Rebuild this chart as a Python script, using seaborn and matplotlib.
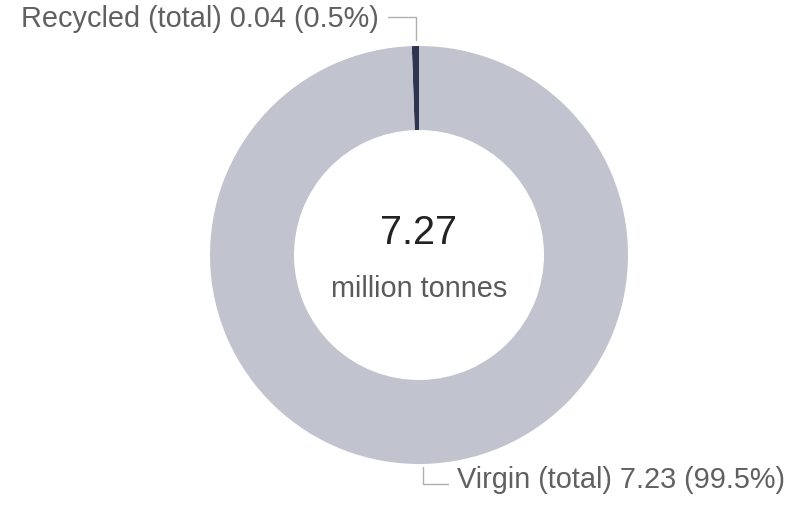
import matplotlib
matplotlib.use("Agg")
import matplotlib.pyplot as plt
import seaborn as sns

# Material sources, million tonnes
categories = ["Recycled (total)", "Virgin (total)"]
values = [0.04, 7.23]
shares = [0.5, 99.5]
total = 7.27
unit_label = "million tonnes"

sns.set_theme(style="white")
plt.rcParams["font.family"] = ["Liberation Sans", "DejaVu Sans"]

colors = ["#2e3550", "#c1c4ce"]

W, H = 792, 505
fig = plt.figure(figsize=(W / 100, H / 100), dpi=100)
ax = fig.add_axes([0, 0, 1, 1])

cx, cy = 419, H - 255
R, r = 209, 125

ax.pie(values, colors=colors, startangle=90, counterclock=True,
       radius=R, center=(cx, cy), frame=True,
       wedgeprops=dict(width=R - r, linewidth=0))
ax.set_xlim(0, W)
ax.set_ylim(0, H)
ax.set_aspect("equal")
ax.axis("off")

# centre figures
ax.text(cx, H - 233, f"{total:.2f}", ha="center", va="center",
        fontsize=28.5, color="#222222")
ax.text(cx, H - 289, unit_label, ha="center", va="center",
        fontsize=20.8, color="#5a5a5a")

line_col = "#b0b0b0"
txt_col = "#606060"

# recycled callout
ax.plot([388, 416, 416], [H - 17, H - 17, H - 40], color=line_col, lw=1.0)
ax.text(379, H - 19, f"{categories[0]} {values[0]:.2f} ({shares[0]}%)",
        ha="right", va="center", fontsize=20.8, color=txt_col)

# virgin callout
ax.plot([423, 423, 448], [H - 467, H - 484, H - 484], color=line_col, lw=1.0)
ax.text(457, H - 480, f"{categories[1]} {values[1]:.2f} ({shares[1]}%)",
        ha="left", va="center", fontsize=20.8, color=txt_col)

fig.savefig("out.png", dpi=100)
